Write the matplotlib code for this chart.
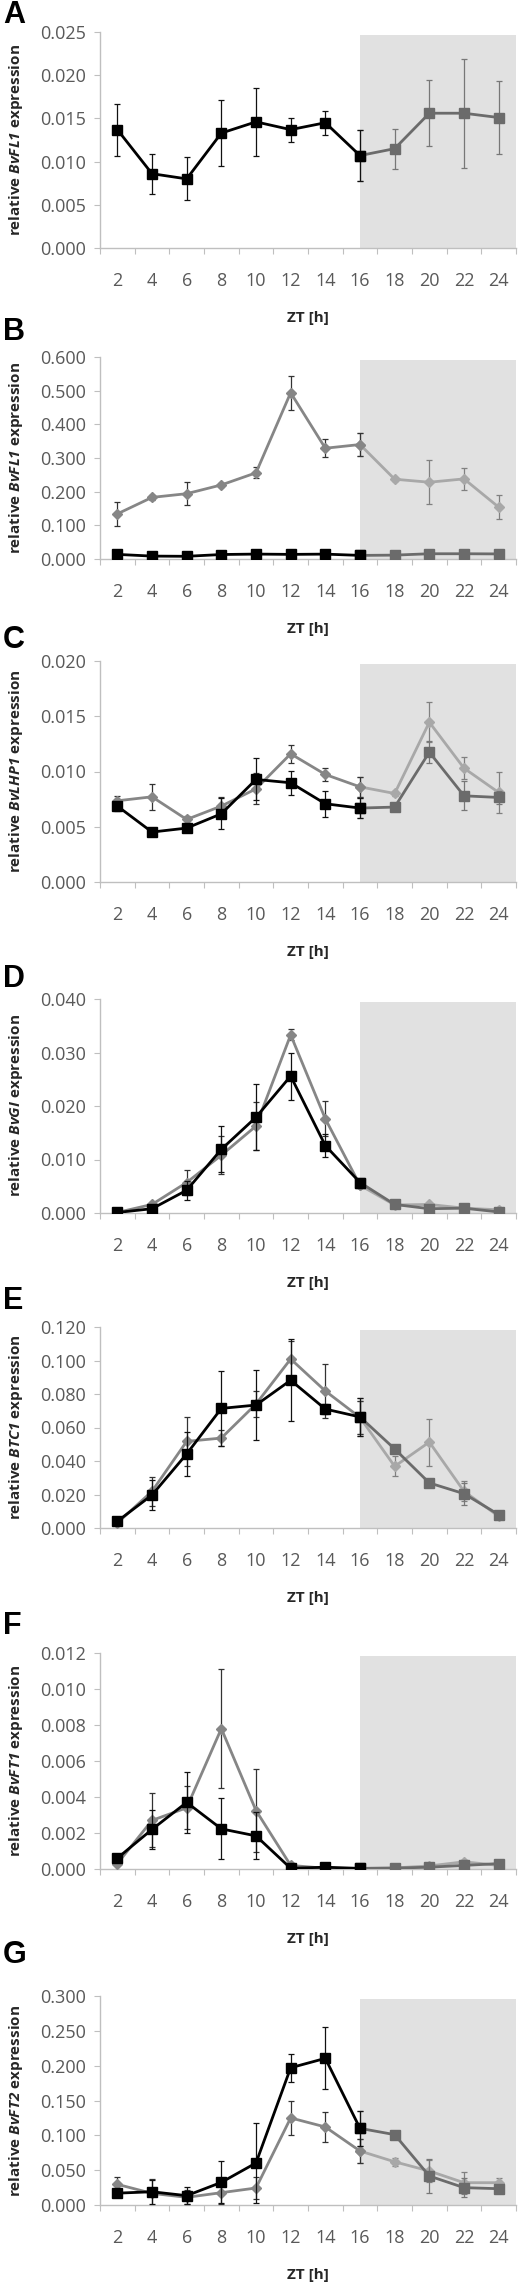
import matplotlib
matplotlib.use("Agg")
import matplotlib.pyplot as plt
from matplotlib.ticker import FixedLocator, FormatStrFormatter

plt.rcParams["font.family"] = ["Open Sans", "DejaVu Sans"]
plt.rcParams["mathtext.fontset"] = "custom"
plt.rcParams["mathtext.rm"] = "Open Sans"
plt.rcParams["mathtext.bfit"] = "Open Sans:italic:bold"

W, H = 523, 2282
zt = ["2", "4", "6", "8", "10", "12", "14", "16", "18", "20", "22", "24"]

# A  BvFL1 (squares only)
a_sq = [0.0137, 0.0086, 0.0080, 0.0133, 0.0146, 0.0137, 0.0145, 0.0107, 0.0115, 0.0156, 0.0156, 0.0151]
a_sq_err = [0.0030, 0.0023, 0.0025, 0.0038, 0.0039, 0.0014, 0.0014, 0.0029, 0.0023, 0.0038, 0.0063, 0.0042]
# B  BvFL1 (squares) and diamonds
b_sq = [0.0137, 0.0086, 0.0080, 0.0133, 0.0146, 0.0137, 0.0145, 0.0107, 0.0115, 0.0156, 0.0156, 0.0151]
b_sq_err = [0.003, 0.002, 0.002, 0.004, 0.004, 0.001, 0.001, 0.003, 0.002, 0.004, 0.006, 0.004]
b_dia = [0.134, 0.183, 0.194, 0.220, 0.256, 0.494, 0.329, 0.340, 0.237, 0.228, 0.238, 0.154]
b_dia_err = [0.036, 0.008, 0.035, 0.005, 0.016, 0.050, 0.027, 0.035, 0.005, 0.066, 0.032, 0.036]
# C  BvLHP1
c_sq = [0.00687, 0.00452, 0.00488, 0.00617, 0.00928, 0.00898, 0.00708, 0.00669, 0.00678, 0.01175, 0.00780, 0.00765]
c_sq_err = [0.0004, 0.0002, 0.0003, 0.0014, 0.0019, 0.0011, 0.0012, 0.0009, 0.0002, 0.0010, 0.0013, 0.0006]
c_dia = [0.00735, 0.00771, 0.00566, 0.00687, 0.00843, 0.01160, 0.00973, 0.00861, 0.00801, 0.01446, 0.01030, 0.00810]
c_dia_err = [0.0004, 0.0012, 0.0003, 0.0008, 0.0014, 0.0008, 0.0006, 0.0009, 0.0002, 0.0018, 0.0010, 0.0019]
# D  BvGI
d_sq = [0.0001, 0.0008, 0.00425, 0.0119, 0.0179, 0.0256, 0.0126, 0.0057, 0.0016, 0.0008, 0.0009, 0.0002]
d_sq_err = [0.0001, 0.0003, 0.0018, 0.0043, 0.0062, 0.0044, 0.0021, 0.0005, 0.0003, 0.0002, 0.0002, 0.0001]
d_dia = [0.0001, 0.0016, 0.0057, 0.0108, 0.01625, 0.0333, 0.0176, 0.0052, 0.0015, 0.0016, 0.0009, 0.0006]
d_dia_err = [0.0001, 0.0004, 0.0023, 0.0035, 0.0045, 0.0010, 0.0033, 0.0005, 0.0003, 0.0003, 0.0002, 0.0001]
# E  BTC1
e_sq = [0.004, 0.0197, 0.0442, 0.0714, 0.0734, 0.0882, 0.0710, 0.0663, 0.0472, 0.0269, 0.0205, 0.0080]
e_sq_err = [0.001, 0.009, 0.013, 0.0225, 0.021, 0.0245, 0.003, 0.0115, 0.002, 0.002, 0.0065, 0.001]
e_dia = [0.003, 0.0219, 0.0517, 0.0537, 0.0740, 0.1009, 0.0818, 0.0660, 0.0368, 0.0513, 0.0219, 0.0070]
e_dia_err = [0.001, 0.0085, 0.0145, 0.005, 0.008, 0.011, 0.016, 0.010, 0.006, 0.014, 0.006, 0.001]
# F  BvFT1
f_sq = [0.0006, 0.0022, 0.0037, 0.00223, 0.00184, 0.00004, 0.0001, 0.00003, 0.00005, 0.0001, 0.0002, 0.0003]
f_sq_err = [0.0001, 0.0011, 0.0017, 0.0017, 0.0013, 0.00002, 0.00002, 0.00002, 0.00002, 0.00003, 0.00005, 0.00005]
f_dia = [0.0003, 0.0027, 0.0034, 0.0078, 0.00325, 0.0002, 0.00004, 0.00004, 0.00006, 0.00017, 0.0004, 0.0002]
f_dia_err = [0.0001, 0.0015, 0.0012, 0.0033, 0.0023, 0.00005, 0.00002, 0.00002, 0.00002, 0.00005, 0.0001, 0.00005]
# G  BvFT2
g_sq = [0.017, 0.019, 0.0134, 0.0325, 0.0603, 0.197, 0.2105, 0.110, 0.101, 0.0416, 0.0249, 0.0234]
g_sq_err = [0.005, 0.017, 0.012, 0.030, 0.058, 0.020, 0.0445, 0.025, 0.003, 0.024, 0.014, 0.003]
g_dia = [0.0297, 0.0167, 0.011, 0.0177, 0.0244, 0.125, 0.112, 0.0775, 0.062, 0.0488, 0.032, 0.032]
g_dia_err = [0.011, 0.020, 0.010, 0.016, 0.016, 0.024, 0.022, 0.0175, 0.006, 0.016, 0.016, 0.007]

# letter, gene, ymax, ystep, axes top px, axes bottom px, letter top px, series
panels = [
    ("A", "BvFL1", 0.025, 0.005, 32, 248, 5, (a_sq, a_sq_err), None),
    ("B", "BvFL1", 0.600, 0.100, 357, 559, 322, (b_sq, b_sq_err), (b_dia, b_dia_err)),
    ("C", "BvLHP1", 0.020, 0.005, 661, 882, 630, (c_sq, c_sq_err), (c_dia, c_dia_err)),
    ("D", "BvGI", 0.040, 0.010, 999, 1213, 969, (d_sq, d_sq_err), (d_dia, d_dia_err)),
    ("E", "BTC1", 0.120, 0.020, 1327, 1528, 1291, (e_sq, e_sq_err), (e_dia, e_dia_err)),
    ("F", "BvFT1", 0.012, 0.002, 1653, 1869, 1616, (f_sq, f_sq_err), (f_dia, f_dia_err)),
    ("G", "BvFT2", 0.300, 0.050, 1996, 2205, 1945, (g_sq, g_sq_err), (g_dia, g_dia_err)),
]

X0, X1 = 100, 516
AXC = "#bfbfbf"; TXT = "#595959"
SQ_DAY = "#000000"; SQ_NIGHT = "#6b6b6b"
DIA_DAY = "#868686"; DIA_NIGHT = "#a8a8a8"

fig = plt.figure(figsize=(W / 100, H / 100), dpi=100)

def series(ax, vals, errs, marker, ms, c_day, c_night, e_day, e_night, z):
    x = list(range(1, len(vals) + 1))
    n0 = 7  # ZT 16 starts the dark period
    ax.errorbar(x[n0:], vals[n0:], yerr=errs[n0:], color=c_night, ecolor=e_night, lw=2.0,
                elinewidth=0.9, capsize=2.5, capthick=0.9, marker=marker, ms=ms, zorder=z)
    ax.errorbar(x[:n0 + 1], vals[:n0 + 1], yerr=errs[:n0 + 1], color=c_day, ecolor=e_day, lw=2.0,
                elinewidth=0.9, capsize=2.5, capthick=0.9, marker=marker, ms=ms, zorder=z + 0.5)

for letter, gene, ymax, ystep, top, bot, ltop, sq, dia in panels:
    ax = fig.add_axes([X0 / W, 1 - bot / H, (X1 - X0) / W, (bot - top) / H])
    ax.set_xlim(0.5, 12.5); ax.set_ylim(0, ymax)
    ax.axvspan(8, 12.5, ymax=0.985, color="#e1e1e1", lw=0, zorder=0)
    for s in ("top", "right"): ax.spines[s].set_visible(False)
    for s in ("left", "bottom"): ax.spines[s].set_color(AXC); ax.spines[s].set_linewidth(1.0)
    n = round(ymax / ystep)
    ax.yaxis.set_major_locator(FixedLocator([i * ystep for i in range(n + 1)]))
    ax.yaxis.set_major_formatter(FormatStrFormatter("%.3f"))
    ax.xaxis.set_major_locator(FixedLocator([i + 0.5 for i in range(13)]))
    ax.xaxis.set_minor_locator(FixedLocator(list(range(1, 13))))
    ax.set_xticklabels([], minor=False)
    ax.set_xticklabels(zt, minor=True)
    ax.tick_params(axis="x", which="major", length=4, color=AXC, direction="out")
    ax.tick_params(axis="x", which="minor", length=0, pad=17, labelsize=13, labelcolor=TXT)
    ax.tick_params(axis="y", length=4, color=AXC, pad=6, labelsize=13, labelcolor=TXT)
    if dia is not None:
        series(ax, dia[0], dia[1], "D", 5.5, DIA_DAY, DIA_NIGHT, "#333333", "#808080", 3)
    series(ax, sq[0], sq[1], "s", 7, SQ_DAY, SQ_NIGHT, "#111111", "#777777", 4)
    fig.text(16 / W, 1 - (top + bot) / 2 / H, r"relative $\mathbfit{" + gene + "}$ expression",
             rotation=90, ha="center", va="center", fontsize=11, weight="bold", color="#262626")
    fig.text((X0 + X1) / 2 / W, 1 - (bot + 70) / H, "ZT [h]", ha="center", va="center",
             fontsize=11, weight="bold", color="#262626")
    fig.text(3 / W, 1 - (ltop - 5) / H, letter, ha="left", va="top", fontsize=22,
             weight="bold", family="Liberation Sans", color="black")

fig.savefig("out.png", dpi=100)
